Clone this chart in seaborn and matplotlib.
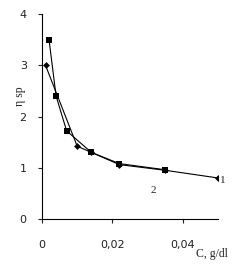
import matplotlib
matplotlib.use("Agg")
import matplotlib.pyplot as plt
import seaborn as sns
import pandas as pd

# Curve 1 (diamonds)
c1_x = [0.001, 0.010, 0.014, 0.022, 0.035, 0.050]
c1_y = [3.0, 1.42, 1.30, 1.06, 0.95, 0.80]
# Curve 2 (squares)
c2_x = [0.002, 0.004, 0.007, 0.014, 0.022, 0.035]
c2_y = [3.5, 2.4, 1.72, 1.30, 1.08, 0.96]

x_ticks = [0, 0.02, 0.04]
x_tick_labels = ["0", "0,02", "0,04"]
y_ticks = [0, 1, 2, 3, 4]

sns.set_theme(style="white")
plt.rcParams['font.family'] = ['DejaVu Sans']

fig = plt.figure(figsize=(2.4, 2.66), dpi=100)
ax = fig.add_axes([0.175, 0.177, 0.733, 0.77])

d1 = pd.DataFrame({"x": c1_x, "y": c1_y})
d2 = pd.DataFrame({"x": c2_x, "y": c2_y})
sns.lineplot(data=d1, x="x", y="y", ax=ax, color="black", lw=0.8,
             marker="D", markersize=3.5, markeredgewidth=0, sort=False)
sns.lineplot(data=d2, x="x", y="y", ax=ax, color="black", lw=0.8,
             marker="s", markersize=4.5, markeredgewidth=0, sort=False)

ax.set_xlim(0, 0.05)
ax.set_ylim(0, 4)
ax.set_xticks(x_ticks)
ax.set_xticklabels(x_tick_labels)
ax.set_yticks(y_ticks)
ax.set_xlabel("")
ax.set_ylabel("")
for s in ["top", "right"]:
    ax.spines[s].set_visible(False)
for s in ["left", "bottom"]:
    ax.spines[s].set_color("black")
    ax.spines[s].set_linewidth(0.8)
ax.tick_params(axis="x", direction="out", length=3, width=0.8, pad=12,
               labelsize=8, colors="#222222", bottom=True)
ax.tick_params(axis="y", direction="out", length=3, width=0.8, pad=8,
               labelsize=8, colors="#222222", left=True)

fig.text(0.885, 0.045, "C, g/dl", family="Liberation Serif", fontsize=8.5,
         ha="center", va="center")
fig.text(0.085, 0.64, "η sp", family="Liberation Serif", fontsize=8.5,
         rotation=90, ha="center", va="center")
ax.text(0.0515, 0.75, "1", family="Liberation Serif", fontsize=8,
        ha="center", va="center", clip_on=False)
ax.text(0.0315, 0.55, "2", family="Liberation Serif", fontsize=8,
        ha="center", va="center")

fig.savefig("out.png", dpi=100)
